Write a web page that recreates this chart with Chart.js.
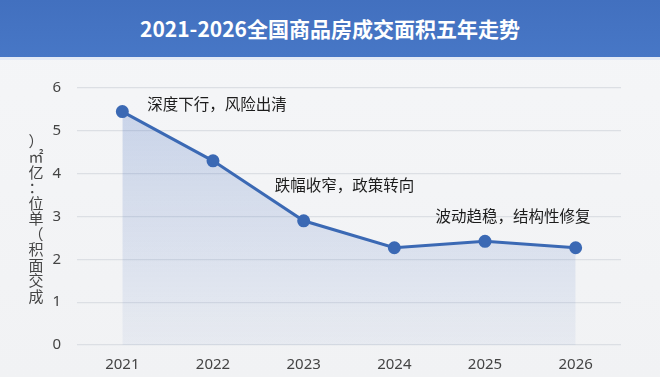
<!DOCTYPE html>
<html>
<head>
<meta charset="utf-8">
<script src="https://cdn.jsdelivr.net/npm/chart.js@4"></script>
<style>
  body { margin: 0; width: 660px; height: 377px; overflow: hidden; background: linear-gradient(#f5f6f8, #f1f2f4); font-family: "Noto Sans CJK SC", sans-serif; }
  .header { height: 57px; line-height: 57px; background: linear-gradient(#4270bf, #4777c6); color: #fff; font-weight: bold; font-size: 21px; text-align: center; border-bottom: 3px solid #e4ebf6; }
  .wrap { position: relative; width: 660px; height: 317px; }
</style>
</head>
<body>
<div class="header">2021-2026全国商品房成交面积五年走势</div>
<div class="wrap"><canvas id="areaChart"></canvas></div>
<script>
// years and sales area (100 million m2)
const years = ['2021', '2022', '2023', '2024', '2025', '2026'];
const area = [5.45, 4.3, 2.9, 2.27, 2.42, 2.27];
const notes = ['深度下行，风险出清', '跌幅收窄，政策转向', '波动趋稳，结构性修复'];
const noteAt = [0, 2, 4];
const yTitle = '成交面积（单位：亿㎡）';

const font = '"Noto Sans CJK SC", sans-serif';
const tickFont = '"Noto Sans", sans-serif';

// y title drawn as upright characters stacked from bottom to top
const yTitlePlugin = {
    id: 'yTitle',
    afterDraw(chart) {
        const c = chart.ctx;
        c.save();
        c.fillStyle = '#444';
        c.font = '15px ' + font;
        c.textAlign = 'center';
        c.textBaseline = 'middle';
        Array.from(yTitle).forEach((ch, i) => {
            c.fillText(ch, 36, 236 - i * 15.5);
        });
        c.restore();
    }
};

// notes hung next to a point of the line
const notePlugin = {
    id: 'notes',
    afterDatasetsDraw(chart) {
        const c = chart.ctx;
        const pts = chart.getDatasetMeta(0).data;
        const offs = [[25, -7, 'left'], [-29, -36, 'left'], [28, -25, 'center']];
        c.save();
        c.fillStyle = '#1c1c1c';
        c.font = '15.5px ' + font;
        c.textBaseline = 'middle';
        notes.forEach((t, i) => {
            const p = pts[noteAt[i]];
            c.textAlign = offs[i][2];
            c.fillText(t, p.x + offs[i][0], p.y + offs[i][1]);
        });
        c.restore();
    }
};

const ctx = document.getElementById('areaChart').getContext('2d');
new Chart(ctx, {
    type: 'line',
    data: {
        labels: years,
        datasets: [{
            data: area,
            borderColor: '#3b69b4',
            borderWidth: 3,
            pointRadius: 5,
            pointHoverRadius: 5,
            pointBackgroundColor: '#3b69b4',
            pointBorderColor: '#3b69b4',
            tension: 0,
            fill: 'origin',
            backgroundColor: (c) => {
                const a = c.chart.chartArea;
                if (!a) return 'rgba(80,120,200,0.15)';
                const g = c.chart.ctx.createLinearGradient(0, a.top, 0, a.bottom);
                g.addColorStop(0, 'rgba(70,110,190,0.26)');
                g.addColorStop(1, 'rgba(70,110,190,0.06)');
                return g;
            }
        }]
    },
    options: {
        responsive: true,
        maintainAspectRatio: false,
        animation: false,
        layout: { padding: { top: 28, right: 39, left: 0, bottom: 0 } },
        plugins: {
            legend: { display: false },
            tooltip: { enabled: false }
        },
        scales: {
            x: {
                offset: true,
                grid: { display: false },
                border: { display: false },
                ticks: { color: '#444', font: { size: 15, family: tickFont }, padding: 3 },
                afterFit: (s) => { s.height = 32; }
            },
            y: {
                min: 0,
                max: 6,
                border: { display: false },
                grid: { color: '#dcdfe4', lineWidth: 1.2, drawTicks: false },
                ticks: { stepSize: 1, color: '#444', font: { size: 15, family: tickFont }, padding: 16 },
                afterFit: (s) => { s.width = 77; }
            }
        }
    },
    plugins: [yTitlePlugin, notePlugin]
});
</script>
</body>
</html>
